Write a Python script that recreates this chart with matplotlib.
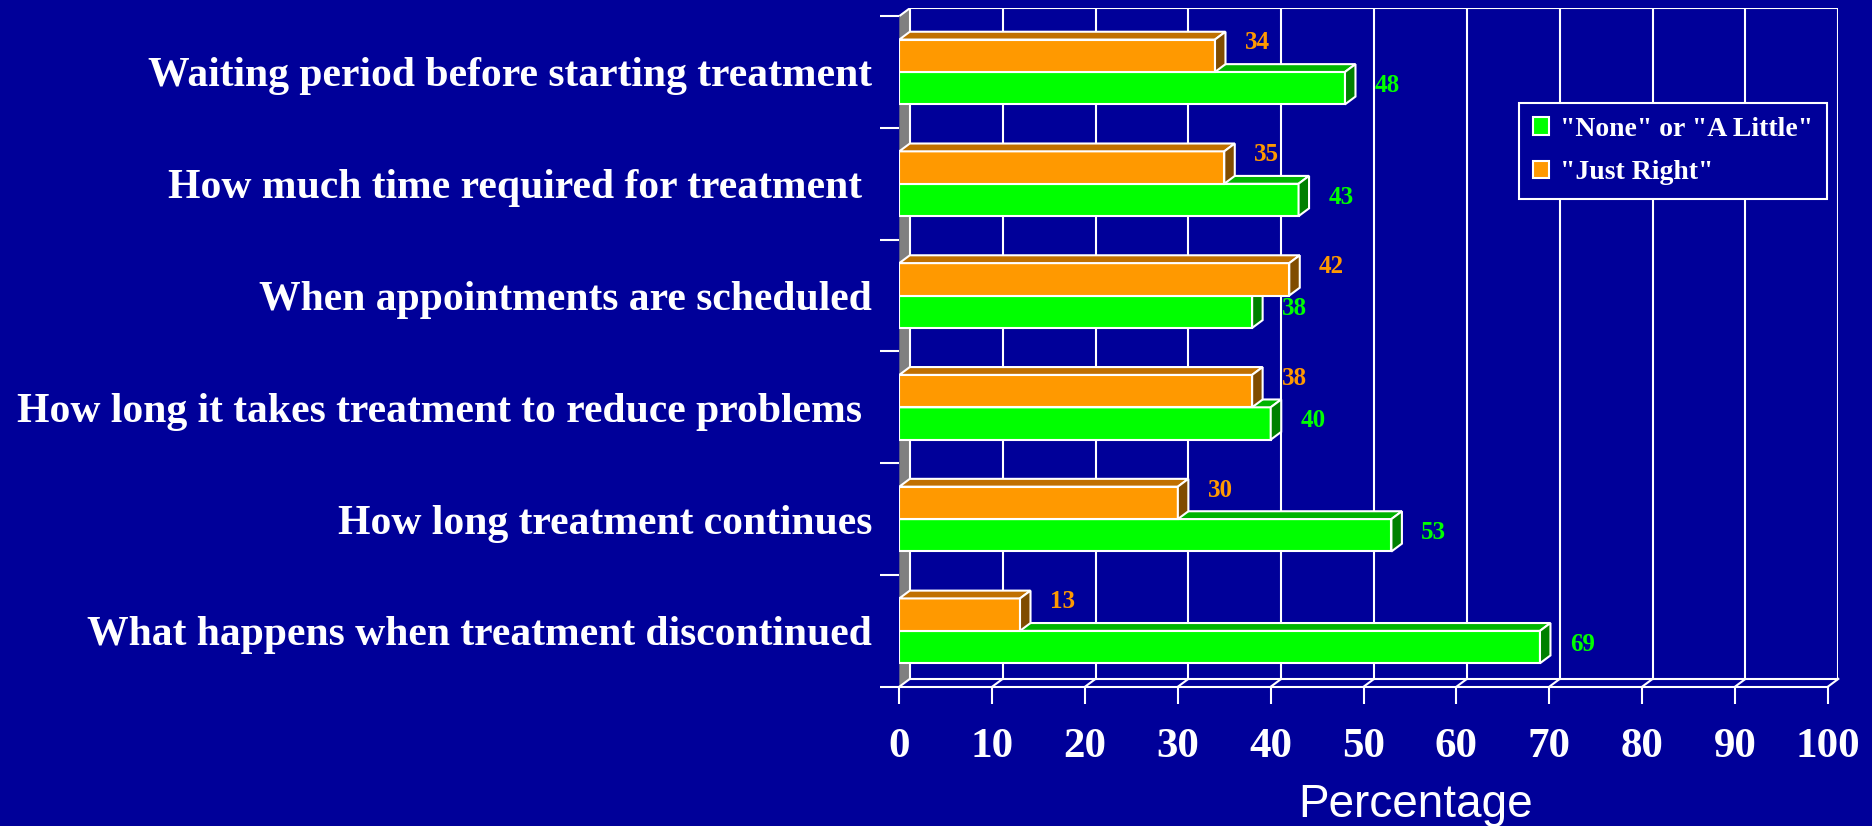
"""Treatment timing survey: 3D-style horizontal bar chart on a dark blue slide."""

import matplotlib

matplotlib.use("Agg")
import matplotlib.pyplot as plt
from matplotlib.patches import Patch, Polygon

# Data (bottom to top, as drawn)
categories = [
    "What happens when treatment discontinued",
    "How long treatment continues",
    "How long it takes treatment to reduce problems ",
    "When appointments are scheduled",
    "How much time required for treatment ",
    "Waiting period before starting treatment",
]
none_little = [69, 53, 40, 38, 43, 48]
just_right = [13, 30, 38, 42, 35, 34]
series_names = ['"None" or "A Little"', '"Just Right"']
xticks = list(range(0, 101, 10))

BG = "#000099"
GREEN, GREEN_TOP, GREEN_SIDE = "#00FF00", "#00B400", "#008000"
ORANGE, ORANGE_TOP, ORANGE_SIDE = "#FF9900", "#C07000", "#804C00"
GREY = "#808080"
DX, DY = 1.13, 0.07  # depth of the fake 3D, in data units
H = 0.29
LW = 1.5

plt.rcParams["font.family"] = ["Liberation Serif", "DejaVu Serif"]
plt.rcParams["font.weight"] = "bold"

fig = plt.figure(figsize=(18.72, 8.26), dpi=100, facecolor=BG)
ax = fig.add_axes([0.4804, 0.1686, 0.5016, 0.8214])
ax.set_facecolor(BG)
n = len(categories)
y0, y1 = -0.5, n - 0.5
ax.set_xlim(0, 100 + DX)
ax.set_ylim(y0, y1 + DY)

# left side wall and back wall
ax.add_patch(Polygon([(0, y0), (DX, y0 + DY), (DX, y1 + DY), (0, y1)],
                     closed=True, fc=GREY, ec="none", zorder=1))
ax.plot([0, DX], [y1, y1 + DY], color="white", lw=LW, zorder=1, solid_capstyle="butt")
for t in xticks:
    ax.plot([t + DX, t + DX], [y0 + DY, y1 + DY], color="white", lw=LW, zorder=1)
ax.plot([DX, 100 + DX], [y1 + DY, y1 + DY], color="white", lw=LW, zorder=1)

# floor
ax.plot([0, 100], [y0, y0], color="white", lw=LW, zorder=2, clip_on=False)
ax.plot([DX, 100 + DX], [y0 + DY, y0 + DY], color="white", lw=LW, zorder=2)
for t in xticks:
    ax.plot([t, t + DX], [y0, y0 + DY], color="white", lw=LW, zorder=2, clip_on=False)

# bars: green below, orange above in each category
ys = list(range(n))
for vals, off, front, top, side, z in [
    (none_little, -H / 2, GREEN, GREEN_TOP, GREEN_SIDE, 3),
    (just_right, H / 2, ORANGE, ORANGE_TOP, ORANGE_SIDE, 4),
]:
    centers = [i + off for i in ys]
    ax.barh(centers, vals, height=H, color=front, edgecolor="white", linewidth=LW, zorder=z)
    for yc, v in zip(centers, vals):
        yt, yb = yc + H / 2, yc - H / 2
        ax.add_patch(Polygon([(0, yt), (DX, yt + DY), (v + DX, yt + DY), (v, yt)],
                             closed=True, fc=top, ec="white", lw=LW, zorder=z))
        ax.add_patch(Polygon([(v, yb), (v, yt), (v + DX, yt + DY), (v + DX, yb + DY)],
                             closed=True, fc=side, ec="white", lw=LW, zorder=z))

# value labels
for i in ys:
    ax.text(just_right[i] + 3.2, i + H - 0.03, str(just_right[i]), color=ORANGE,
            fontsize=18, ha="left", va="center", zorder=6)
    ax.text(none_little[i] + 3.2, i - H / 2 + 0.025, str(none_little[i]), color=GREEN,
            fontsize=18, ha="left", va="center", zorder=6)

# axes, ticks
for s in ax.spines.values():
    s.set_visible(False)
ax.set_xticks(xticks)
ax.set_xticklabels([str(t) for t in xticks])
ax.set_yticks([y0 + k for k in range(n + 1)])
ax.set_yticklabels([])
ax.set_yticks(ys, minor=True)
ax.set_yticklabels(categories, minor=True)
ax.tick_params(axis="x", colors="white", length=12, width=LW, pad=17.5, labelsize=31)
ax.tick_params(axis="y", which="major", colors="white", length=14, width=LW)
ax.tick_params(axis="y", which="minor", length=0, pad=19.5, labelsize=30, labelcolor="white")

handles = [
    Patch(fc=GREEN, ec="white", lw=LW, label=series_names[0]),
    Patch(fc=ORANGE, ec="white", lw=LW, label=series_names[1]),
]
leg = ax.legend(handles=handles, loc="upper left",
                bbox_to_anchor=(1519 / 1872, 1 - 103 / 826), bbox_transform=fig.transFigure,
                frameon=True, fancybox=False, facecolor=BG, edgecolor="white", framealpha=1,
                fontsize=20, labelcolor="white", handlelength=0.58, handleheight=0.58,
                handletextpad=0.4, borderaxespad=0, borderpad=0.5, labelspacing=0.66)
leg.get_frame().set_linewidth(LW)
leg.set_zorder(10)

fig.text(1416 / 1872, 9 / 826, "Percentage", family="Liberation Sans", weight="normal",
         fontsize=33, color="white", ha="center", va="baseline")

fig.savefig("out.png", dpi=100, facecolor=BG)
